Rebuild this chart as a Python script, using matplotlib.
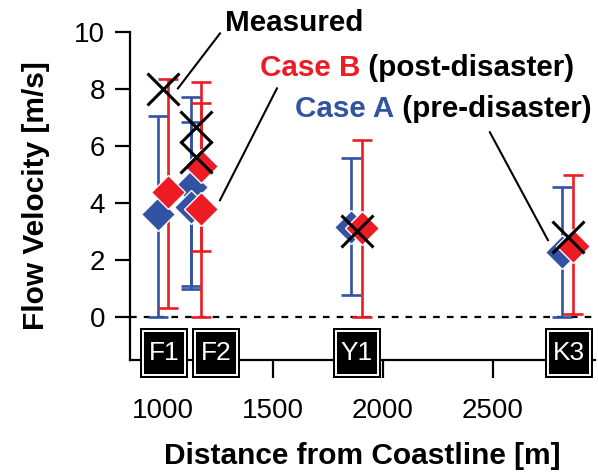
import matplotlib
matplotlib.use("Agg")
import matplotlib.pyplot as plt
from matplotlib.patches import Rectangle

plt.rcParams['font.family'] = ['Liberation Sans', 'DejaVu Sans']

# ---- data ----
distance = [1000, 1150, 1150, 1880, 2840]          # m from coastline
caseA = [3.6, 4.55, 3.85, 3.15, 2.27]               # pre-disaster
caseA_low = [0.0, 1.08, 0.98, 0.77, 0.0]
caseA_high = [7.06, 7.73, 6.84, 5.56, 4.55]
caseB = [4.37, 5.28, 3.78, 3.12, 2.48]              # post-disaster
caseB_low = [0.31, 2.3, 0.0, 0.0, 0.1]
caseB_high = [8.36, 8.23, 7.5, 6.19, 4.97]
measured = [8.0, 6.65, 5.6, 3.0, 2.8]

site_labels = ['F1', 'F2', 'Y1', 'K3']
site_box_x = [1005, 1241, 1882, 2845]

BLUE = '#3253A3'
RED = '#ED1C24'
OFF = 24

fig = plt.figure(figsize=(5.98, 4.74), dpi=100)
ax = fig.add_axes([130/598, 114/474, 465/598, 328/474])

xa = [d - OFF for d in distance]
xb = [d + OFF for d in distance]

def err(v, lo, hi):
    return [[a - b for a, b in zip(v, lo)], [c - a for a, c in zip(v, hi)]]

ax.axhline(0, color='black', lw=1.6, ls=(0, (3, 3.2)), zorder=1)

ax.errorbar(xa, caseA, yerr=err(caseA, caseA_low, caseA_high), fmt='none',
            ecolor=BLUE, elinewidth=1.9, capsize=7.5, capthick=1.9, zorder=2)
ax.errorbar(xb, caseB, yerr=err(caseB, caseB_low, caseB_high), fmt='none',
            ecolor=RED, elinewidth=1.9, capsize=7.5, capthick=1.9, zorder=2)
ax.plot(xa, caseA, 'D', color=BLUE, ms=17.5, mec='white', mew=1.0, zorder=3)
ax.plot(xb, caseB, 'D', color=RED, ms=17.5, mec='white', mew=1.0, zorder=3)
ax.plot(distance, measured, 'x', color='black', ms=23, mew=2.2, zorder=4)

ax.set_xlim(850, 2964)
ax.set_ylim(-1.52, 10)
ax.set_xticks([1000, 1500, 2000, 2500])
ax.set_yticks([0, 2, 4, 6, 8, 10])
ax.spines['top'].set_visible(False)
ax.spines['right'].set_visible(False)
for s in ['left', 'bottom']:
    ax.spines[s].set_linewidth(1.6)
ax.tick_params(axis='x', length=13, width=1.6, pad=14, labelsize=20)
ax.tick_params(axis='y', length=11, width=1.6, pad=7, labelsize=20)

ax.set_xlabel('Distance from Coastline [m]', fontsize=21.5, fontweight='bold', labelpad=13)
ax.set_ylabel('Flow Velocity [m/s]', fontsize=21.5, fontweight='bold', labelpad=17)

# site boxes
trans = ax.get_xaxis_transform()
bw = 218
for lab, bx in zip(site_labels, site_box_x):
    ax.add_patch(Rectangle((bx - bw/2, -0.055), bw, 0.1525, transform=trans,
                           facecolor='black', edgecolor='none', clip_on=False, zorder=6))
    ax.add_patch(Rectangle((bx - bw/2 + 14, -0.046), bw - 28, 0.134, transform=trans,
                           facecolor='black', edgecolor='white', lw=1.4, clip_on=False, zorder=7))
    ax.text(bx, 0.021, lab, transform=trans, color='white', fontsize=19,
            ha='center', va='center', zorder=8, clip_on=False)

# annotations
ax.plot([1259, 1068], [9.95, 8.02], color='black', lw=1.5, clip_on=False, zorder=5)
ax.plot([1518, 1259], [8.02, 4.09], color='black', lw=1.5, clip_on=False, zorder=5)
ax.plot([2486, 2750], [6.48, 2.69], color='black', lw=1.5, clip_on=False, zorder=5)

FS = 21.3
ax.text(1282, 10.3, 'Measured', fontsize=FS, fontweight='bold', va='center', clip_on=False)
tb = ax.text(1441, 8.72, 'Case B', fontsize=FS, fontweight='bold', color=RED, va='center')
ax.annotate(' (post-disaster)', xy=(1, 0.5), xycoords=tb, fontsize=FS, fontweight='bold',
            va='center', ha='left', color='black')
ta = ax.text(1600, 7.28, 'Case A', fontsize=FS, fontweight='bold', color=BLUE, va='center')
ax.annotate(' (pre-disaster)', xy=(1, 0.5), xycoords=ta, fontsize=FS, fontweight='bold',
            va='center', ha='left', color='black')

fig.savefig('out.png', dpi=100)
